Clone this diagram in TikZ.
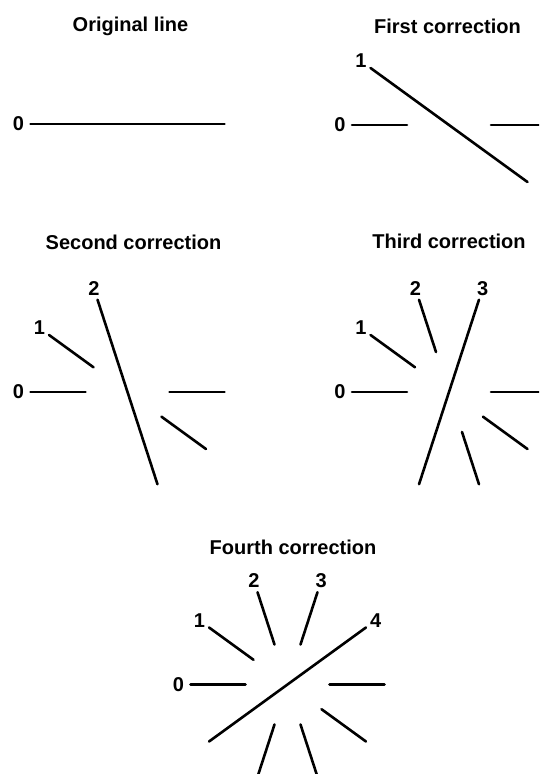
\documentclass[tikz,border=0pt]{standalone}
\usepackage{fontspec}
\setmainfont{Liberation Sans}
\usetikzlibrary{positioning}

\begin{document}
\begin{tikzpicture}[x=1pt, y=1pt,
    stroke/.style={line width=2.6pt, line cap=round},
    title/.style={font=\fontsize{20}{24}\selectfont\bfseries},
    num/.style={font=\fontsize{20}{22}\selectfont\bfseries, inner sep=0pt}]
  \useasboundingbox (0,0) rectangle (539,774);
  \clip (0,0) rectangle (539,774);
  % one panel per step: centre, number of corrections, title and its place
  \foreach \cx/\cy/\n/\txt/\tx/\ty in {
      127.5/650/0/{Original line}/130.5/748,
      449/649/1/{First correction}/447.5/748,
      127.5/382/2/{Second correction}/133.5/532,
      449/382/3/{Third correction}/449/533,
      287.5/89.5/4/{Fourth correction}/293/227} {
    \node[title] (title\n) at (\tx,\ty) {\txt};
    \begin{scope}[shift={(\cx,\cy)}]
      \foreach \k in {0,...,\n} {
        \pgfmathsetmacro{\a}{180-36*\k}
        \ifnum\k<\n
          % older lines keep only their outer parts
          \draw[stroke] (\a:97) -- (\a:42);
          \draw[stroke] (\a+180:42) -- (\a+180:97);
        \else
          % newest line goes right through
          \draw[stroke] (\a:97) -- (\a+180:97);
        \fi
        \node[num] (p\n k\k) at (\a:109) {\k};
      }
    \end{scope}
  }
\end{tikzpicture}
\end{document}
